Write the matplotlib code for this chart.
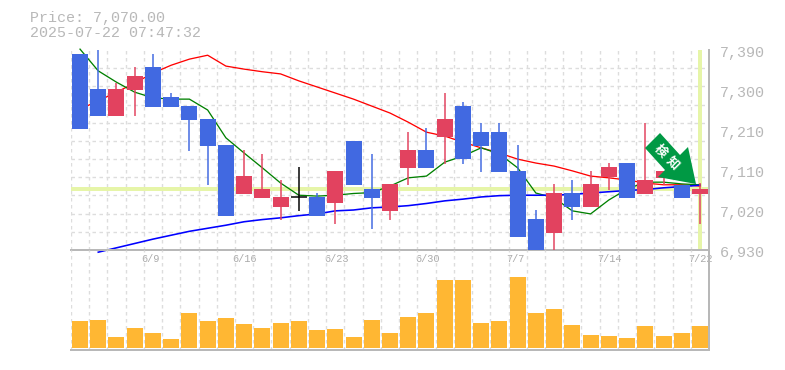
import numpy as np
import matplotlib
matplotlib.use('Agg')
import matplotlib.pyplot as plt
from matplotlib.patches import Polygon
from matplotlib.transforms import ScaledTranslation, Affine2D

# daily candles, top / bottom of body, wick ends
body_top = [7381, 7300, 7300, 7330, 7351, 7282, 7261, 7231, 7172, 7100, 7070, 7052, 7052, 7052, 7112,
            7181, 7070, 7082, 7160, 7160, 7231, 7261, 7201, 7201, 7112, 7001, 7061, 7061, 7082, 7121,
            7130, 7091, 7112, 7080, 7070]
body_bot = [7208, 7238, 7238, 7298, 7259, 7259, 7229, 7169, 7008, 7059, 7050, 7029, 7052, 7008, 7038,
            7080, 7050, 7020, 7119, 7119, 7190, 7139, 7169, 7109, 6960, 6930, 6969, 7029, 7029, 7098,
            7050, 7059, 7096, 7050, 7059]
highs = [7381, 7390, 7314, 7351, 7381, 7291, 7261, 7231, 7172, 7160, 7151, 7091, 7121, 7061, 7112,
         7181, 7151, 7082, 7201, 7211, 7291, 7270, 7222, 7222, 7172, 7022, 7082, 7091, 7112, 7130,
         7130, 7222, 7112, 7080, 7084]
lows = [7208, 7238, 7238, 7238, 7259, 7259, 7158, 7080, 7008, 7059, 7050, 6999, 7020, 7008, 6990,
        7080, 6978, 6999, 7080, 7119, 7128, 7128, 7109, 7109, 6960, 6930, 6930, 6999, 7029, 7068,
        7050, 7059, 7080, 7050, 6990]
kinds = ['d', 'd', 'u', 'u', 'd', 'd', 'd', 'd', 'd', 'u', 'u', 'u', 'n', 'd', 'u',
         'd', 'd', 'u', 'u', 'd', 'u', 'd', 'd', 'd', 'd', 'd', 'u', 'd', 'u', 'u',
         'd', 'u', 'u', 'd', 'u']

ma_short = [7392, 7342, 7316, 7293, 7280, 7277, 7277, 7252, 7188, 7153, 7119, 7084, 7056, 7054, 7056,
            7060, 7062, 7077, 7096, 7100, 7132, 7146, 7165, 7151, 7119, 7061, 7050, 7020, 7013, 7045,
            7070, 7086, 7086, 7082, 7080]
ma_mid = [7254, 7273, 7293, 7314, 7337, 7355, 7369, 7378, 7353, 7346, 7340, 7335, 7319, 7305, 7291,
          7277, 7261, 7245, 7224, 7201, 7192, 7178, 7165, 7153, 7139, 7130, 7123, 7112, 7100, 7096,
          7091, 7084, 7080, 7080, 7077]
ma_long = [6925, 6935, 6945, 6955, 6964, 6973, 6980, 6987, 6995, 7000, 7004, 7009, 7013, 7020, 7022,
           7027, 7029, 7032, 7037, 7043, 7047, 7052, 7055, 7056, 7056, 7056, 7058, 7061, 7064, 7067,
           7069, 7073, 7076, 7079]

volumes = [27, 28, 11, 20, 15, 9, 35, 27, 30, 24, 20, 25, 27, 18, 19, 11, 28, 15,
           31, 35, 68, 68, 25, 27, 71, 35, 39, 23, 13, 12, 10, 22, 12, 15, 22]

price_labels = ['7,390', '7,300', '7,210', '7,110', '7,020', '6,930']
date_idx = [4, 9, 14, 19, 24, 29, 34]
date_labels = ['6/9', '6/16', '6/23', '6/30', '7/7', '7/14', '7/22']
last_price = 7070

W, H = 785, 370
GRAY = '#b8b8b8'
GRID = '#dddddd'
HILITE = '#e6f5a8'
DASH = (0, (2.5, 2.5))
col = {'u': '#e2425f', 'd': '#4169e1', 'n': '#000000'}
plt.rcParams['font.family'] = ['Liberation Mono', 'DejaVu Sans Mono']

fig = plt.figure(figsize=(W / 100, H / 100), dpi=100)
L, R = 70.9, 709.1
ax = fig.add_axes([L / W, 1 - 250 / H, (R - L) / W, 200 / H])
axv = fig.add_axes([L / W, 1 - 350 / H, (R - L) / W, 100 / H], facecolor='none')

x = np.arange(len(volumes))
px = 0.72  # points per pixel

# price panel
ax.set_xlim(-0.5, 34.5)
ax.set_ylim(6930, 7390)
ax.set_xticks(x[:-1] + 0.5, minor=True)
ax.set_yticks(np.linspace(6930, 7390, 12), minor=True)
ax.grid(which='minor', color=GRID, lw=1.4 * px, ls=DASH)
ax.tick_params(which='minor', length=0)
ax.set_axisbelow(True)
ax.axvline(-0.5, color=GRID, lw=1.4 * px, ls=DASH, zorder=1)
ax.axhline(last_price, color=HILITE, lw=4 * px, zorder=1.5)
ax.axvline(x[-1], color=HILITE, lw=4 * px, zorder=1.5)

ax.plot(x, ma_mid, color='#ff0000', lw=1.3 * px, zorder=2, clip_on=False)
ax.plot(x, ma_short, color='#008000', lw=1.3 * px, zorder=2, clip_on=False)
ax.plot(x[1:], ma_long, color='#0000ff', lw=1.6 * px, zorder=2, clip_on=False)

colors = [col[k] for k in kinds]
ax.vlines(x, lows, highs, colors=colors, lw=1.5 * px, zorder=3)
top = np.array(body_top)
bot = np.array(body_bot)
ax.bar(x, top - bot, bottom=bot, width=16 / 18.235, color=colors, zorder=3.5, clip_on=False)
for i, k in enumerate(kinds):
    if k == 'n':
        ax.hlines(body_top[i], i - 0.44, i + 0.44, color='black', lw=1.5 * px, zorder=3.5)

ax.set_yticks(np.linspace(7390, 6930, 6), price_labels)
ax.yaxis.tick_right()
ax.tick_params(axis='y', which='major', length=0, pad=8, labelsize=10.8, labelcolor=GRAY)
for t in ax.get_yticklabels():
    t.set_transform(t.get_transform() + ScaledTranslation(0, -2 / 100, fig.dpi_scale_trans))
ax.set_xticks(date_idx, date_labels)
ax.tick_params(axis='x', which='major', length=0, pad=3, labelsize=7.4, labelcolor='#aaaaaa')
for t in ax.get_xticklabels():
    t.set_ha('left')
    t.set_transform(t.get_transform() + ScaledTranslation(-11.5 / 100, 0, fig.dpi_scale_trans))

for s in ['top', 'left']:
    ax.spines[s].set_visible(False)
for s in ['bottom', 'right']:
    ax.spines[s].set_color(GRAY)
    ax.spines[s].set_linewidth(2 * px)

# volume panel
axv.set_xlim(-0.5, 34.5)
axv.set_ylim(-2, 98)
axv.set_xticks(x[:-1] + 0.5, [''] * (len(x) - 1))
axv.set_yticks([])
axv.tick_params(length=0)
axv.grid(axis='x', color=GRID, lw=1.4 * px, ls=DASH)
axv.set_axisbelow(True)
axv.axvline(-0.5, color=GRID, lw=1.4 * px, ls=DASH, zorder=1)
axv.bar(x, volumes, width=16 / 18.235, color='#ffb733', zorder=3)
for s in ['top', 'left']:
    axv.spines[s].set_visible(False)
for s in ['bottom', 'right']:
    axv.spines[s].set_color(GRAY)
    axv.spines[s].set_linewidth(2 * px)

# signal arrow, in image pixels
to_px = Affine2D().scale(1 / W, -1 / H).translate(0, 1) + fig.transFigure
arrow = Polygon([(660, 133), (645, 148), (665, 170), (658, 177), (696, 184), (688, 147), (680, 155)],
                closed=True, facecolor='#009944', edgecolor='none', transform=to_px, zorder=6)
fig.add_artist(arrow)
for ch, cx, cy in [('検', 660, 151), ('知', 673, 163)]:
    fig.text(cx, cy, ch, transform=to_px, color='white', fontsize=9, fontweight='bold',
             rotation=-45, rotation_mode='anchor', ha='center', va='center', zorder=7,
             family=['Noto Sans CJK JP', 'DejaVu Sans'])

fig.text(30, 18, 'Price: 7,070.00', transform=to_px, color=GRAY, fontsize=10.8, va='center', ha='left')
fig.text(30, 33, '2025-07-22 07:47:32', transform=to_px, color=GRAY, fontsize=10.8, va='center', ha='left')

fig.savefig('out.png', dpi=100)
